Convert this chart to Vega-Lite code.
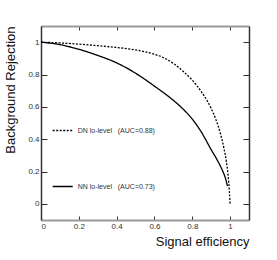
{
  "$schema": "https://vega.github.io/schema/vega-lite/v6.json",
  "width": 208,
  "height": 194,
  "autosize": "none",
  "padding": {"left": 41, "top": 26, "right": 28, "bottom": 40},
  "background": "white",
  "config": {
    "font": "Liberation Sans",
    "view": {"stroke": null},
    "axis": {"grid": false, "labelFont": "Liberation Sans", "titleFont": "Liberation Sans"}
  },
  "data": {
    "values": [
      {"model": "NN lo-level\u00a0\u00a0\u00a0(AUC=0.73)", "eff": 0, "rej": 1},
      {"model": "NN lo-level\u00a0\u00a0\u00a0(AUC=0.73)", "eff": 0.1, "rej": 0.985},
      {"model": "NN lo-level\u00a0\u00a0\u00a0(AUC=0.73)", "eff": 0.2, "rej": 0.956},
      {"model": "NN lo-level\u00a0\u00a0\u00a0(AUC=0.73)", "eff": 0.3, "rej": 0.918},
      {"model": "NN lo-level\u00a0\u00a0\u00a0(AUC=0.73)", "eff": 0.4, "rej": 0.872},
      {"model": "NN lo-level\u00a0\u00a0\u00a0(AUC=0.73)", "eff": 0.5, "rej": 0.808},
      {"model": "NN lo-level\u00a0\u00a0\u00a0(AUC=0.73)", "eff": 0.6, "rej": 0.728},
      {"model": "NN lo-level\u00a0\u00a0\u00a0(AUC=0.73)", "eff": 0.7, "rej": 0.64},
      {"model": "NN lo-level\u00a0\u00a0\u00a0(AUC=0.73)", "eff": 0.75, "rej": 0.588},
      {"model": "NN lo-level\u00a0\u00a0\u00a0(AUC=0.73)", "eff": 0.8, "rej": 0.524},
      {"model": "NN lo-level\u00a0\u00a0\u00a0(AUC=0.73)", "eff": 0.85, "rej": 0.44},
      {"model": "NN lo-level\u00a0\u00a0\u00a0(AUC=0.73)", "eff": 0.9, "rej": 0.335},
      {"model": "NN lo-level\u00a0\u00a0\u00a0(AUC=0.73)", "eff": 0.93, "rej": 0.275},
      {"model": "NN lo-level\u00a0\u00a0\u00a0(AUC=0.73)", "eff": 0.96, "rej": 0.205},
      {"model": "NN lo-level\u00a0\u00a0\u00a0(AUC=0.73)", "eff": 0.975, "rej": 0.16},
      {"model": "NN lo-level\u00a0\u00a0\u00a0(AUC=0.73)", "eff": 0.986, "rej": 0.11},
      {"model": "DN lo-level\u00a0\u00a0\u00a0(AUC=0.88)", "eff": 0, "rej": 1},
      {"model": "DN lo-level\u00a0\u00a0\u00a0(AUC=0.88)", "eff": 0.1, "rej": 0.995},
      {"model": "DN lo-level\u00a0\u00a0\u00a0(AUC=0.88)", "eff": 0.2, "rej": 0.988},
      {"model": "DN lo-level\u00a0\u00a0\u00a0(AUC=0.88)", "eff": 0.3, "rej": 0.978},
      {"model": "DN lo-level\u00a0\u00a0\u00a0(AUC=0.88)", "eff": 0.4, "rej": 0.967},
      {"model": "DN lo-level\u00a0\u00a0\u00a0(AUC=0.88)", "eff": 0.5, "rej": 0.952},
      {"model": "DN lo-level\u00a0\u00a0\u00a0(AUC=0.88)", "eff": 0.6, "rej": 0.925},
      {"model": "DN lo-level\u00a0\u00a0\u00a0(AUC=0.88)", "eff": 0.65, "rej": 0.903},
      {"model": "DN lo-level\u00a0\u00a0\u00a0(AUC=0.88)", "eff": 0.7, "rej": 0.868},
      {"model": "DN lo-level\u00a0\u00a0\u00a0(AUC=0.88)", "eff": 0.75, "rej": 0.822},
      {"model": "DN lo-level\u00a0\u00a0\u00a0(AUC=0.88)", "eff": 0.8, "rej": 0.765},
      {"model": "DN lo-level\u00a0\u00a0\u00a0(AUC=0.88)", "eff": 0.85, "rej": 0.69},
      {"model": "DN lo-level\u00a0\u00a0\u00a0(AUC=0.88)", "eff": 0.88, "rej": 0.635},
      {"model": "DN lo-level\u00a0\u00a0\u00a0(AUC=0.88)", "eff": 0.9, "rej": 0.59},
      {"model": "DN lo-level\u00a0\u00a0\u00a0(AUC=0.88)", "eff": 0.925, "rej": 0.521},
      {"model": "DN lo-level\u00a0\u00a0\u00a0(AUC=0.88)", "eff": 0.95, "rej": 0.43},
      {"model": "DN lo-level\u00a0\u00a0\u00a0(AUC=0.88)", "eff": 0.968, "rej": 0.34},
      {"model": "DN lo-level\u00a0\u00a0\u00a0(AUC=0.88)", "eff": 0.98, "rej": 0.265},
      {"model": "DN lo-level\u00a0\u00a0\u00a0(AUC=0.88)", "eff": 0.99, "rej": 0.17},
      {"model": "DN lo-level\u00a0\u00a0\u00a0(AUC=0.88)", "eff": 0.996, "rej": 0.08},
      {"model": "DN lo-level\u00a0\u00a0\u00a0(AUC=0.88)", "eff": 1.0, "rej": 0.0}
    ]
  },
  "layer": [
    {
      "mark": {"type": "line", "color": "black", "strokeWidth": 1.3, "interpolate": "monotone"},
      "encoding": {
        "x": {
          "field": "eff", "type": "quantitative",
          "scale": {"domain": [0, 1.1], "nice": false, "zero": false},
          "axis": {
            "orient": "bottom", "values": [0, 0.2, 0.4, 0.6, 0.8, 1], "format": "~g",
            "tickSize": -4, "tickColor": "#333", "tickWidth": 1,
            "domainColor": "#999", "domainWidth": 2,
            "labelFontSize": 8, "labelColor": "#333", "labelPadding": 6,
            "title": "Signal efficiency", "titleFontSize": 13, "titleFontWeight": "normal", "titleColor": "#111",
            "titleX": 208, "titleY": 25.5, "titleAlign": "right", "titleBaseline": "alphabetic"
          }
        },
        "y": {
          "field": "rej", "type": "quantitative",
          "scale": {"domain": [-0.1, 1.1], "nice": false, "zero": false},
          "axis": {
            "orient": "left", "values": [0, 0.2, 0.4, 0.6, 0.8, 1], "format": "~g",
            "tickSize": -6, "tickColor": "#333", "tickWidth": 1,
            "domainColor": "#333", "domainWidth": 1.5,
            "labelFontSize": 8, "labelColor": "#333", "labelPadding": 8,
            "title": "Background Rejection", "titleFontSize": 13, "titleFontWeight": "normal", "titleColor": "#111",
            "titleX": -26.7, "titleY": 0, "titleAngle": -90, "titleAlign": "right", "titleBaseline": "alphabetic"
          }
        },
        "strokeDash": {
          "field": "model", "type": "nominal",
          "scale": {
            "domain": ["DN lo-level\u00a0\u00a0\u00a0(AUC=0.88)", "NN lo-level\u00a0\u00a0\u00a0(AUC=0.73)"],
            "range": [[2, 1.5], [1, 0]]
          },
          "legend": {
            "orient": "none", "legendX": 10.7, "legendY": 93.5, "title": null,
            "padding": 0, "rowPadding": 42,
            "symbolType": "stroke", "symbolSize": 400, "symbolStrokeWidth": 1.3, "symbolStrokeColor": "black",
            "labelFontSize": 7, "labelOffset": 4, "labelColor": "#333", "labelFont": "Liberation Sans", "labelLimit": 0
          }
        }
      }
    },
    {
      "mark": {"type": "line", "opacity": 0},
      "encoding": {
        "x": {
          "field": "eff", "type": "quantitative",
          "axis": {
            "orient": "top", "values": [0, 0.2, 0.4, 0.6, 0.8, 1], "labels": false, "title": null,
            "tickSize": -4, "tickColor": "#333", "domainColor": "#999", "domainWidth": 2
          }
        },
        "y": {
          "field": "rej", "type": "quantitative",
          "axis": {
            "orient": "right", "values": [0, 0.2, 0.4, 0.6, 0.8, 1], "labels": false, "title": null,
            "tickSize": -6, "tickColor": "#333", "domainColor": "#333", "domainWidth": 1.5
          }
        },
        "detail": {"field": "model", "type": "nominal"}
      }
    }
  ],
  "resolve": {"axis": {"x": "independent", "y": "independent"}}
}
